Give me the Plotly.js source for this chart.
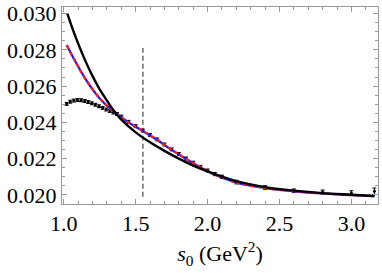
<!DOCTYPE html>
<html><head><meta charset="utf-8">
<script src="https://cdn.plot.ly/plotly-3.0.1.min.js"></script>
<style>html,body{margin:0;padding:0;background:#fff}#plot{width:382px;height:273px}</style>
</head><body><div id="plot"></div>
<script>
// black solid curve
var blackS = [1.025, 1.06, 1.1, 1.15, 1.2, 1.25, 1.3, 1.34, 1.4, 1.5, 1.6, 1.7, 1.8, 1.9, 2.0, 2.2, 2.4, 2.6, 2.8, 3.0, 3.16];
var blackY = [0.0300, 0.02918, 0.02834, 0.02739, 0.02655, 0.02582, 0.0252, 0.02472, 0.02415, 0.02345, 0.0229, 0.02243, 0.022, 0.02162, 0.0213, 0.02076, 0.02043, 0.02024, 0.0201, 0.02001, 0.01994];
// blue solid and red dashed curves
var blueS = [1.02, 1.075, 1.15, 1.25, 1.337, 1.45, 1.55, 1.65, 1.75, 1.85, 1.95, 2.05, 2.2, 2.4, 2.6, 2.8, 3.0, 3.16];
var blueY = [0.02827, 0.02744, 0.0264, 0.02532, 0.02466, 0.024, 0.02352, 0.02303, 0.02248, 0.02198, 0.02152, 0.02112, 0.02068, 0.02038, 0.0202, 0.02008, 0.01999, 0.01993];
var redY  = [0.02825, 0.02743, 0.0264, 0.02532, 0.02466, 0.024, 0.02353, 0.02304, 0.02249, 0.02199, 0.02153, 0.02113, 0.02068, 0.02038, 0.0202, 0.02008, 0.01999, 0.01993];
// data points with error bars
var dataS = [1.02, 1.045, 1.07, 1.095, 1.12, 1.145, 1.17, 1.195, 1.22, 1.245, 1.27, 1.295, 1.32, 1.345, 1.37, 1.4, 1.45, 1.5, 1.55, 1.6, 1.65, 1.7, 1.75, 1.8, 1.85, 1.9, 1.95, 2.0, 2.05, 2.1, 2.2, 2.4, 2.6, 2.8, 3.0, 3.16];
var dataY = [0.02502, 0.02514, 0.0252, 0.02523, 0.02522, 0.02518, 0.02512, 0.02505, 0.02497, 0.02489, 0.0248, 0.02471, 0.02462, 0.02454, 0.02446, 0.02432, 0.02403, 0.02379, 0.02355, 0.0233, 0.02306, 0.02278, 0.02251, 0.02226, 0.02201, 0.02178, 0.02155, 0.02135, 0.02115, 0.021, 0.02071, 0.02041, 0.02023, 0.02016, 0.0201, 0.0202];
var dataErr = [0.00008, 0.00008, 0.00008, 0.00008, 0.00008, 0.00008, 0.00008, 0.00008, 0.00008, 0.00008, 0.00008, 0.00008, 0.00008, 0.00008, 0.00008, 0.00008, 0.00008, 0.00008, 0.00008, 0.00008, 0.00008, 0.00008, 0.00008, 0.00008, 0.00008, 0.00008, 0.00008, 0.00008, 0.00009, 0.00009, 0.0001, 0.0001, 0.0001, 0.00011, 0.00013, 0.00018];
// vertical dashed marker
var cutS = [1.55, 1.55];
var cutY = [0.0199, 0.0281];

var traces = [
  {x: cutS, y: cutY, mode: 'lines', line: {color: '#555', width: 1.3, dash: '5px,3px'}, hoverinfo: 'skip'},
  {x: dataS, y: dataY, mode: 'markers', marker: {color: '#000', size: 3},
   error_y: {type: 'data', array: dataErr, visible: true, color: '#000', thickness: 1, width: 2}},
  {x: blueS, y: blueY, mode: 'lines', line: {color: '#1a1aff', width: 2.2, shape: 'spline'}},
  {x: blueS, y: redY, mode: 'lines', line: {color: '#ff1a1a', width: 2.2, dash: '4px,3px', shape: 'spline'}},
  {x: blackS, y: blackY, mode: 'lines', line: {color: '#000', width: 2.4, shape: 'spline'}}
];
var axisCommon = {
  showline: true, linecolor: '#999', linewidth: 1, mirror: 'ticks',
  ticks: 'inside', ticklen: 5, tickcolor: '#999', showgrid: false, zeroline: false,
  tickfont: {family: 'Liberation Serif, Times New Roman, serif', size: 22, color: '#000'}
};
var layout = {
  width: 382, height: 273, showlegend: false,
  margin: {l: 62, r: 4, t: 7, b: 69},
  paper_bgcolor: '#fff', plot_bgcolor: '#fff',
  xaxis: Object.assign({}, axisCommon, {
    range: [0.9875, 3.185], tickvals: [1.0, 1.5, 2.0, 2.5, 3.0], ticktext: ['1.0','1.5','2.0','2.5','3.0'],
    minor: {dtick: 0.1, tick0: 1.0, ticks: 'inside', ticklen: 3, tickcolor: '#999'},
    title: {text: '<i>s</i><sub>0</sub> (GeV<sup>2</sup>)', font: {family: 'Liberation Serif, Times New Roman, serif', size: 22, color: '#000'}, standoff: 10}
  }),
  yaxis: Object.assign({}, axisCommon, {
    range: [0.0195, 0.03036], tickvals: [0.020, 0.022, 0.024, 0.026, 0.028, 0.030],
    ticktext: ['0.020','0.022','0.024','0.026','0.028','0.030'],
    minor: {dtick: 0.0005, tick0: 0.02, ticks: 'inside', ticklen: 3, tickcolor: '#999'}
  })
};
Plotly.newPlot('plot', traces, layout, {staticPlot: true, displayModeBar: false});
</script></body></html>
